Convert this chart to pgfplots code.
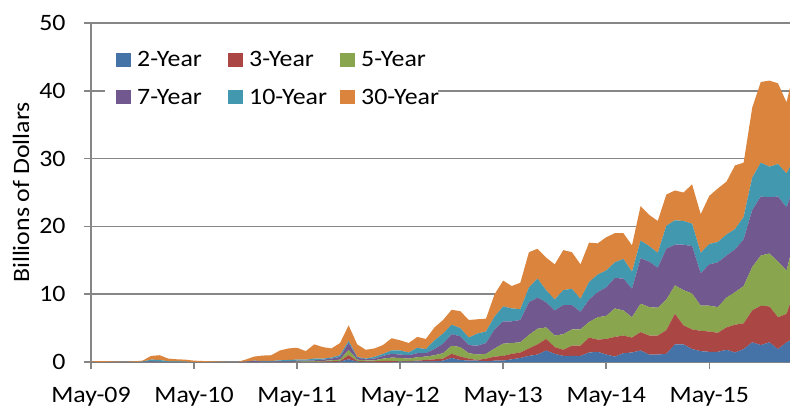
\documentclass[border=0pt]{standalone}
\usepackage{fontspec}
\setmainfont{Carlito}[FakeStretch=1.1]
\usepackage{pgfplots}
\usepackage{pgfplotstable}
\pgfplotsset{compat=1.18}
\definecolor{c2}{RGB}{69,114,167}
\definecolor{c3}{RGB}{170,70,67}
\definecolor{c5}{RGB}{137,165,78}
\definecolor{c7}{RGB}{113,88,143}
\definecolor{c10}{RGB}{65,152,175}
\definecolor{c30}{RGB}{219,132,61}
\definecolor{axgray}{RGB}{134,134,134}

% monthly, m=0 is May-09
\pgfplotstableread{
m b r g p t o
0 0 0 0 0 0 0.05
1 0 0 0 0 0 0.15
2 0 0 0 0 0 0.1
3 0 0 0 0 0 0.05
4 0 0 0 0 0 0
5 0 0 0 0 0 0.1
6 0 0 0 0 0.05 0.15
7 0 0 0 0.1 0.25 0.55
8 0 0 0 0.05 0.25 0.7
9 0 0 0 0 0.1 0.4
10 0 0 0 0 0.1 0.3
11 0 0 0 0 0.05 0.3
12 0 0 0 0 0 0.2
13 0 0 0 0 0 0.15
14 0 0 0 0 0 0.1
15 0 0 0 0 0 0.05
16 0 0 0 0 0 0
17 0 0 0 0 0 0
18 0 0 0 0.05 0 0.3
19 0 0 0 0.15 0.05 0.6
20 0 0 0 0.05 0.1 0.8
21 0 0 0 0.05 0.1 0.85
22 0 0 0 0.1 0.15 1.45
23 0 0 0 0.1 0.2 1.7
24 0 0 0.05 0.15 0.15 1.75
25 0 0 0.1 0.1 0.15 1.25
26 0 0 0.1 0.15 0.25 2.1
27 0 0.05 0.1 0.2 0.15 1.7
28 0 0.1 0.15 0.25 0.15 1.35
29 0.05 0.1 0.2 0.4 0.25 1.8
30 0.4 0.6 0.8 1.0 0.3 2.3
31 0.05 0.1 0.2 0.3 0.1 1.85
32 0 0.1 0.15 0.15 0.1 1.3
33 0 0.1 0.15 0.25 0.25 1.25
34 0 0.15 0.35 0.4 0.3 1.3
35 0 0.15 0.5 0.55 0.5 1.8
36 0.05 0.05 0.5 0.5 0.6 1.5
37 0.05 0.1 0.35 0.5 0.4 1.4
38 0.1 0.1 0.5 0.6 0.8 1.6
39 0.1 0.2 0.5 0.5 0.6 1.5
40 0.1 0.3 0.6 0.9 1.3 1.9
41 0.2 0.3 0.8 1.4 1.5 2.0
42 0.6 0.6 1.2 1.7 1.4 2.2
43 0.3 0.5 1.4 1.6 1.2 2.5
44 0.2 0.3 0.8 1.2 1.1 2.6
45 0.2 0.1 0.8 1.3 1.8 2.1
46 0.1 0.4 0.7 1.6 1.7 1.9
47 0.2 0.6 1.2 2.8 1.9 3.3
48 0.2 0.7 1.8 3.3 2.2 3.8
49 0.4 0.8 1.6 3.2 1.9 3.3
50 0.6 0.8 1.5 3.3 1.6 3.9
51 0.9 1.1 2.0 4.8 2.2 5.2
52 1.1 1.5 2.3 4.6 2.8 4.4
53 1.7 1.7 1.7 3.7 1.8 4.8
54 1.2 1.0 1.7 3.7 1.6 5.2
55 0.9 0.9 2.3 4.3 2.2 5.9
56 0.9 1.5 2.4 3.6 2.4 5.4
57 0.9 1.5 2.4 2.6 1.9 5.1
58 1.4 2.2 2.3 3.3 2.6 5.8
59 1.5 1.8 3.3 3.7 2.6 4.6
60 1.1 2.3 3.4 4.2 2.5 4.9
61 0.8 2.9 4.2 4.5 2.3 4.3
62 1.3 2.6 3.7 4.7 2.9 3.8
63 1.4 2.2 3.0 4.2 2.5 3.9
64 1.7 2.7 4.2 6.7 2.6 5.1
65 1.1 2.8 4.2 6.7 2.3 4.6
66 1.1 2.8 4.1 5.9 2.2 4.7
67 1.2 3.5 4.5 7.5 3.4 4.6
68 2.6 4.5 4.2 6.0 3.6 4.4
69 2.6 2.8 5.2 6.7 3.5 4.2
70 1.9 2.9 5.3 7.0 3.3 5.8
71 1.6 3.0 3.7 4.8 3.0 5.7
72 1.5 3.0 3.8 6.1 3.0 7.1
73 1.5 2.8 3.8 6.6 3.0 7.9
74 1.8 3.3 4.4 6.2 3.1 7.8
75 1.4 4.1 4.8 6.3 3.0 9.4
76 1.9 3.8 5.5 6.9 3.3 8.0
77 2.9 4.7 6.4 8.4 4.8 10.3
78 2.5 5.8 7.4 8.7 5.0 11.9
79 2.9 5.3 7.8 8.3 4.5 12.7
80 1.9 4.7 8.2 9.6 4.8 11.9
81 2.9 4.2 6.4 9.3 5.0 10.5
82 3.6 7.3 7.6 8.0 3.8 13.5
}\data

\newcommand{\lt}[1]{\makebox[85pt][l]{#1}}
\newcommand{\ltl}[1]{\makebox[66pt][l]{#1}}

\begin{document}
\begin{tikzpicture}
\begin{axis}[
  scale only axis, width=699pt, height=339pt,
  xmin=0, xmax=81.4, ymin=0, ymax=50,
  axis x line*=bottom, axis y line*=left,
  axis line style={axgray, line width=1.5pt},
  xtick={0,12,24,36,48,60,72},
  xticklabels={May-09,May-10,May-11,May-12,May-13,May-14,May-15},
  ytick={0,10,20,30,40,50},
  tick align=outside, major tick length=7pt,
  tick style={axgray, line width=1.5pt},
  ymajorgrids, major grid style={axgray, line width=1.5pt},
  tick label style={font=\fontsize{23.5}{28}\selectfont, black},
  /pgf/number format/assume math mode=true,
  yticklabel style={xshift=-15pt},
  xticklabel style={yshift=-14.5pt},
  ylabel={Billions of Dollars},
  every axis y label/.style={at={(rel axis cs:0,0.5)}, xshift=-70pt, rotate=90, anchor=center, font=\fontsize{23.5}{28}\selectfont},
  stack plots=y,
  legend columns=3,
  legend cell align=left,
  legend image code/.code={\fill[#1] (0pt,-7pt) rectangle (15pt,7pt);},
  legend style={at={(rel axis cs:0.02,0.95)}, anchor=north west, draw=none, fill=white,
    font=\fontsize{23.5}{28}\selectfont, inner xsep=11pt, inner ysep=11pt, row sep=21pt,
    nodes={inner sep=0pt},
    /tikz/every odd column/.append style={column sep=6pt},
    /tikz/every even column/.append style={column sep=6pt}},
]
\addplot[fill=c2, draw=none] table[x=m,y=b]{\data} \closedcycle;
\addplot[fill=c3, draw=none] table[x=m,y=r]{\data} \closedcycle;
\addplot[fill=c5, draw=none] table[x=m,y=g]{\data} \closedcycle;
\addplot[fill=c7, draw=none] table[x=m,y=p]{\data} \closedcycle;
\addplot[fill=c10, draw=none] table[x=m,y=t]{\data} \closedcycle;
\addplot[fill=c30, draw=none] table[x=m,y=o]{\data} \closedcycle;
\legend{\lt{2-Year},\lt{3-Year},\ltl{5-Year},\lt{7-Year},\lt{10-Year},\ltl{30-Year}}
\end{axis}
\pgfresetboundingbox
\path[use as bounding box] ([xshift=-91pt,yshift=-46pt]current axis.south west) rectangle ([xshift=699pt,yshift=362pt]current axis.south west);
\end{tikzpicture}
\end{document}
